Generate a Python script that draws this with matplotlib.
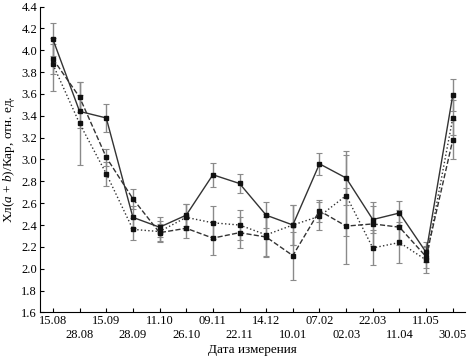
import matplotlib
matplotlib.use("Agg")
import matplotlib.pyplot as plt
import numpy as np

plt.rcParams["font.family"] = "Liberation Serif"
plt.rcParams["mathtext.fontset"] = "custom"
plt.rcParams["mathtext.rm"] = "Liberation Serif"
plt.rcParams["mathtext.it"] = "Liberation Serif:italic"

dates = ["15.08", "28.08", "15.09", "28.09", "11.10", "26.10", "09.11", "22.11",
         "14.12", "10.01", "07.02", "02.03", "22.03", "11.04", "11.05", "30.05"]

# solid series
solid = [4.10, 3.44, 3.38, 2.47, 2.38, 2.49, 2.86, 2.78, 2.49, 2.40, 2.96, 2.83, 2.45, 2.51, 2.15, 3.59]
solid_err = [0.15, 0.15, 0.13, 0.10, 0.09, 0.10, 0.11, 0.09, 0.12, 0.18, 0.10, 0.25, 0.12, 0.11, 0.09, 0.15]

# dotted series
dotted = [3.87, 3.33, 2.87, 2.36, 2.34, 2.47, 2.42, 2.40, 2.31, 2.40, 2.48, 2.67, 2.19, 2.24, 2.08, 3.38]
dotted_err = [0.24, 0.38, 0.11, 0.10, 0.10, 0.12, 0.15, 0.14, 0.19, 0.18, 0.13, 0.37, 0.16, 0.19, 0.12, 0.16]

# dashed series
dashed = [3.92, 3.57, 3.02, 2.64, 2.33, 2.37, 2.28, 2.33, 2.29, 2.12, 2.53, 2.39, 2.41, 2.38, 2.11, 3.18]
dashed_err = [0.14, 0.14, 0.08, 0.09, 0.08, 0.09, 0.15, 0.14, 0.18, 0.22, 0.10, 0.35, 0.20, 0.16, 0.10, 0.18]

x = np.arange(len(dates))

fig = plt.figure(figsize=(4.69, 3.62), dpi=100)
ax = fig.add_axes([0.085, 0.137, 0.906, 0.845])

for vals, err, ls in [(dotted, dotted_err, ":"), (dashed, dashed_err, "--"), (solid, solid_err, "-")]:
    ax.errorbar(x, vals, yerr=err, fmt="none", ecolor="#8a8a8a", elinewidth=1.0,
                capsize=2, capthick=0.8, zorder=1)
    ax.plot(x, vals, linestyle=ls, color="#333333", linewidth=1.0, marker="s",
            markersize=3.5, markerfacecolor="#111111", markeredgecolor="#111111", zorder=3)

ax.set_xlim(-0.49, 15.45)
ax.set_ylim(1.6, 4.4)
ax.set_yticks(np.arange(1.6, 4.41, 0.2))
ax.set_yticklabels([f"{v:.1f}" for v in np.arange(1.6, 4.41, 0.2)], fontsize=9)
ax.set_xticks(x)
ax.set_xticklabels([d if i % 2 == 0 else "\n" + d for i, d in enumerate(dates)], fontsize=9)
ax.tick_params(direction="in", length=3, width=0.8, pad=2)

for s in ["top", "right"]:
    ax.spines[s].set_visible(False)
for s in ["left", "bottom"]:
    ax.spines[s].set_linewidth(0.8)

ax.set_xlabel("Дата измерения", fontsize=9.5, labelpad=2)
ax.set_ylabel("Хл($a$ + $b$)/Кар, отн. ед.", fontsize=9.5, labelpad=3)

fig.savefig("out.png", dpi=100)
